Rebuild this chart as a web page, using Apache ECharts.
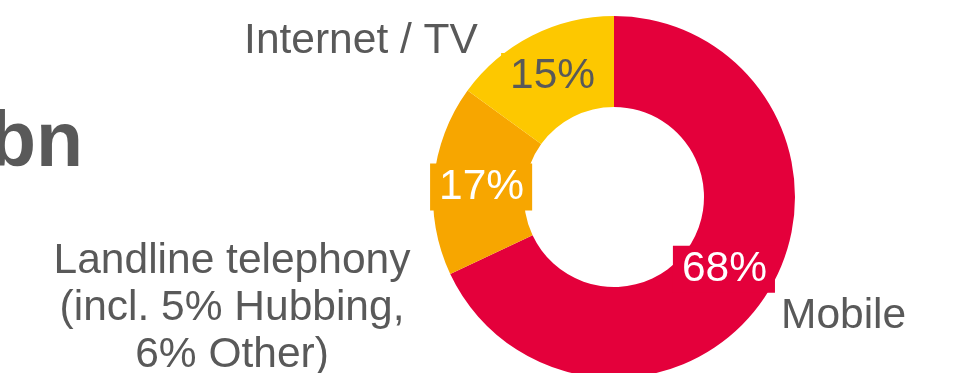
<!DOCTYPE html>
<html>
<head>
<meta charset="utf-8">
<script src="https://cdn.jsdelivr.net/npm/echarts@6/dist/echarts.min.js"></script>
<style>
  html, body { margin: 0; padding: 0; background: #ffffff; }
  #chart { width: 954px; height: 373px; }
</style>
</head>
<body>
<div id="chart"></div>
<script>
// Revenue split by business line (share in %)
const categories = ['Mobile', 'Landline telephony\n(incl. 5% Hubbing,\n6% Other)', 'Internet / TV'];
const shares = [68, 17, 15];
const sliceColors = ['#E4003B', '#F7A600', '#FDC800'];
const valueTextColors = ['#FFFFFF', '#FFFFFF', '#595959'];

// Nudges for the percentage boxes and placement of the category names
const valueOffsets = [[-7, -2], [5, 3], [1, 3]];
const namePlacement = [
  { x: 781, y: 316, align: 'left' },
  { x: 232, y: 308, align: 'center' },
  { x: 361, y: 41, align: 'center' }
];

const FONT = '"Liberation Sans", Arial, sans-serif';
const GREY = '#595959';
const SIZE = 42.5;

const chart = echarts.init(document.getElementById('chart'), null, { renderer: 'canvas' });

const ringData = categories.map((name, i) => ({
  name: name,
  value: shares[i],
  itemStyle: { color: sliceColors[i] },
  label: {
    color: valueTextColors[i],
    backgroundColor: sliceColors[i],
    offset: valueOffsets[i]
  }
}));

const nameData = categories.map((name, i) => ({ name: name, value: shares[i] }));

chart.setOption({
  animation: false,
  backgroundColor: '#ffffff',
  graphic: [{
    type: 'text',
    x: 83,
    y: 145,
    style: {
      text: 'bn',
      font: 'bold 77px ' + FONT,
      fill: GREY,
      textAlign: 'right',
      textVerticalAlign: 'middle'
    }
  }],
  series: [
    {
      type: 'pie',
      center: [614, 197],
      radius: [90, 181],
      startAngle: 90,
      clockwise: true,
      silent: true,
      itemStyle: { borderWidth: 0 },
      label: {
        show: true,
        position: 'inside',
        formatter: '{c}%',
        fontFamily: FONT,
        fontSize: SIZE,
        padding: [2, 8, 2, 9]
      },
      labelLine: { show: false },
      data: ringData
    },
    {
      type: 'pie',
      center: [614, 197],
      radius: [90, 181],
      startAngle: 90,
      clockwise: true,
      silent: true,
      z: 1,
      itemStyle: { color: 'rgba(0,0,0,0)' },
      label: {
        show: true,
        position: 'outside',
        formatter: '{b}',
        fontFamily: FONT,
        fontSize: SIZE,
        lineHeight: 47,
        color: GREY,
        align: 'center'
      },
      labelLine: { show: false },
      labelLayout: function (params) {
        const p = namePlacement[params.dataIndex];
        return { x: p.x, y: p.y, align: p.align, verticalAlign: 'middle' };
      },
      data: nameData
    }
  ]
});
</script>
</body>
</html>
